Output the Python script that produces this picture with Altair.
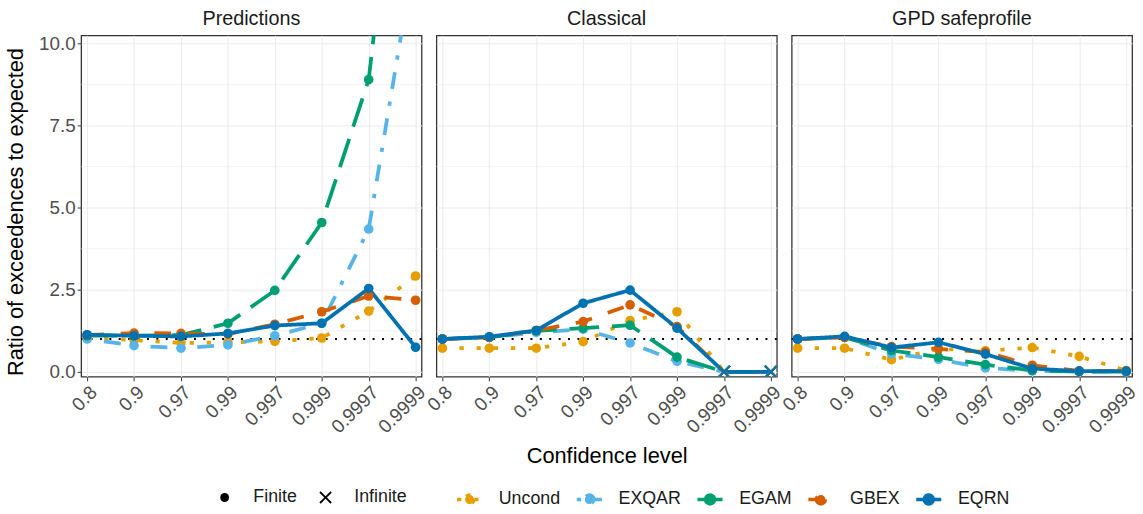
import altair as alt
import pandas as pd

# ---------------- data ----------------
levels = ["0.8", "0.9", "0.97", "0.99", "0.997", "0.999", "0.9997", "0.9999"]
methods = ["Uncond", "EXQAR", "EGAM", "GBEX", "EQRN"]
panels = ["Predictions", "Classical", "GPD safeprofile"]
kinds = ["Finite", "Infinite"]

pred_uncond = [1.05, 0.97, 0.88, 0.90, 0.93, 1.03, 1.85, 2.92]
pred_exqar = [1.00, 0.80, 0.72, 0.82, 1.10, 1.48, 4.35, 12.9]
pred_egam = [1.10, 1.10, 1.12, 1.48, 2.48, 4.55, 8.90, 21.3]
pred_gbex = [1.12, 1.18, 1.17, 1.15, 1.45, 1.83, 2.31, 2.18]
pred_eqrn = [1.13, 1.10, 1.08, 1.17, 1.41, 1.48, 2.54, 0.75]

cls_uncond = [0.72, 0.72, 0.72, 0.92, 1.56, 1.83, 0.0, 0.0]
cls_exqar = [1.00, 1.05, 1.20, 1.30, 0.88, 0.32, 0.0, 0.0]
cls_egam = [1.00, 1.05, 1.25, 1.33, 1.42, 0.45, 0.0, 0.0]
cls_gbex = [1.00, 1.05, 1.26, 1.53, 2.04, 1.38, 0.0, 0.0]
cls_eqrn = [1.00, 1.07, 1.26, 2.09, 2.49, 1.33, 0.0, 0.0]

gpd_uncond = [0.72, 0.72, 0.37, 0.70, 0.64, 0.74, 0.47, 0.04]
gpd_exqar = [1.00, 1.05, 0.55, 0.38, 0.12, 0.03, 0.01, 0.00]
gpd_egam = [1.00, 1.05, 0.65, 0.45, 0.22, 0.04, 0.01, 0.01]
gpd_gbex = [1.00, 1.05, 0.77, 0.70, 0.60, 0.20, 0.03, 0.02]
gpd_eqrn = [1.00, 1.08, 0.74, 0.90, 0.54, 0.10, 0.02, 0.02]

pred_kind = ["Finite"] * 8
cls_kind = ["Finite"] * 6 + ["Infinite"] * 2
gpd_kind = ["Finite"] * 8

y_major = [0, 2.5, 5, 7.5, 10]
y_minor = [1.25, 3.75, 6.25, 8.75]
reference_ratio = [1.0]

series = {
    "Predictions": ([pred_uncond, pred_exqar, pred_egam, pred_gbex, pred_eqrn], pred_kind),
    "Classical": ([cls_uncond, cls_exqar, cls_egam, cls_gbex, cls_eqrn], cls_kind),
    "GPD safeprofile": ([gpd_uncond, gpd_exqar, gpd_egam, gpd_gbex, gpd_eqrn], gpd_kind),
}

rows = []
for p in panels:
    vals, kind = series[p]
    for m, v in zip(methods, vals):
        for lev, val, k in zip(levels, v, kind):
            rows.append({"panel": p, "level": lev, "method": m, "value": val, "kind": k})
df = pd.DataFrame(rows)

# ---------------- styles ----------------
method_colors = ["#E69F00", "#56B4E9", "#009E73", "#D55E00", "#0072B2"]
method_dashes = [[4.3, 13], [4.3, 13, 17, 13], [30, 13], [17, 17], [1, 0]]
x_path = ("M-1.4,-1.1L-1.1,-1.4L0,-0.3L1.1,-1.4L1.4,-1.1L0.3,0L1.4,1.1L1.1,1.4"
          "L0,0.3L-1.1,1.4L-1.4,1.1L-0.3,0Z")
legend_sym = "M-1,0L1,0M0.36,0A0.36,0.36,0,1,1,-0.36,0A0.36,0.36,0,1,1,0.36,0Z"

FONT = "Liberation Sans"
GRID = "#EBEBEB"

y_scale = alt.Scale(domain=[-0.15, 10.25], nice=False, zero=False)
x_scale = alt.Scale(type="point", domain=levels, padding=0.127)

method_legend = alt.Legend(
    title=None, orient="none", legendX=378, legendY=454, direction="horizontal",
    symbolType=legend_sym, symbolSize=640, symbolStrokeWidth=3.5,
    labelFontSize=18, labelColor="#1A1A1A", labelOffset=15, columnPadding=8,
)
kind_legend = alt.Legend(
    title=None, orient="none", legendX=136, legendY=458, direction="horizontal",
    symbolSize=80, symbolFillColor="black", symbolStrokeColor="black", symbolStrokeWidth=0,
    labelFontSize=18, labelColor="#1A1A1A", labelOffset=20, columnPadding=19,
)


def make_panel(i, name):
    d = df[df.panel == name]
    x_axis = alt.Axis(
        title="Confidence level" if i == 1 else None,
        labelAngle=-45, labelAlign="right", labelBaseline="top",
        labelFontSize=19, labelColor="#4D4D4D", labelPadding=2,
        tickColor="#333333", tickSize=4, domain=False,
        grid=True, gridColor=GRID, gridWidth=1,
        titleFontSize=22, titleColor="black", titleFontWeight="normal", titlePadding=9,
    )
    if i == 0:
        y_axis = alt.Axis(
            title="Ratio of exceedences to expected", values=y_major, format=".1f",
            labelFontSize=19, labelColor="#4D4D4D", labelPadding=2,
            tickColor="#333333", tickSize=4, domain=False,
            grid=True, gridColor=GRID, gridWidth=1,
            titleFontSize=22, titleColor="black", titleFontWeight="normal",
            titleAngle=270, titleAlign="center", titleBaseline="bottom",
            titleX=-54, titleY=178,
        )
    else:
        y_axis = alt.Axis(
            title=None, values=y_major, labels=False, ticks=False, domain=False,
            grid=True, gridColor=GRID, gridWidth=1, minExtent=0, maxExtent=0,
        )

    base = alt.Chart(d)
    minor = alt.Chart(pd.DataFrame({"minor": y_minor})).mark_rule(
        color=GRID, strokeWidth=0.6
    ).encode(y=alt.Y("minor:Q", scale=y_scale, axis=y_axis))
    ref = alt.Chart(pd.DataFrame({"ref": reference_ratio})).mark_rule(
        color="black", strokeDash=[2, 7.5], strokeWidth=2
    ).encode(y=alt.Y("ref:Q", scale=y_scale, axis=y_axis))

    lines = base.mark_line(strokeWidth=3.8, clip=True).encode(
        x=alt.X("level:O", sort=levels, scale=x_scale, axis=x_axis),
        y=alt.Y("value:Q", scale=y_scale, axis=y_axis),
        stroke=alt.Stroke("method:N", sort=methods,
                          scale=alt.Scale(domain=methods, range=method_colors),
                          legend=method_legend),
        strokeDash=alt.StrokeDash("method:N", sort=methods,
                                  scale=alt.Scale(domain=methods, range=method_dashes),
                                  legend=method_legend),
    )
    points = base.mark_point(filled=True, size=95, opacity=1, clip=True).encode(
        x=alt.X("level:O", sort=levels, scale=x_scale, axis=x_axis),
        y=alt.Y("value:Q", scale=y_scale, axis=y_axis),
        fill=alt.Fill("method:N", sort=methods,
                      scale=alt.Scale(domain=methods, range=method_colors),
                      legend=method_legend),
        shape=alt.Shape("kind:N", scale=alt.Scale(domain=kinds, range=["circle", x_path]),
                        legend=kind_legend),
    )
    return alt.layer(minor, ref, lines, points).properties(
        width=344, height=345,
        title=alt.TitleParams(name, fontSize=20, color="#1A1A1A", fontWeight="normal",
                              anchor="middle", offset=6),
    )


chart = alt.hconcat(
    *[make_panel(i, p) for i, p in enumerate(panels)], spacing=15, bounds="flush"
).properties(
    padding={"left": 4, "top": 5, "right": 2, "bottom": 5}
).configure(font=FONT).configure_view(
    stroke="#333333", strokeWidth=1.3
).configure_title(font=FONT).configure_axis(labelFont=FONT, titleFont=FONT).configure_legend(
    labelFont=FONT
)

chart.save("out.html", embed_options={"renderer": "svg", "actions": False})
